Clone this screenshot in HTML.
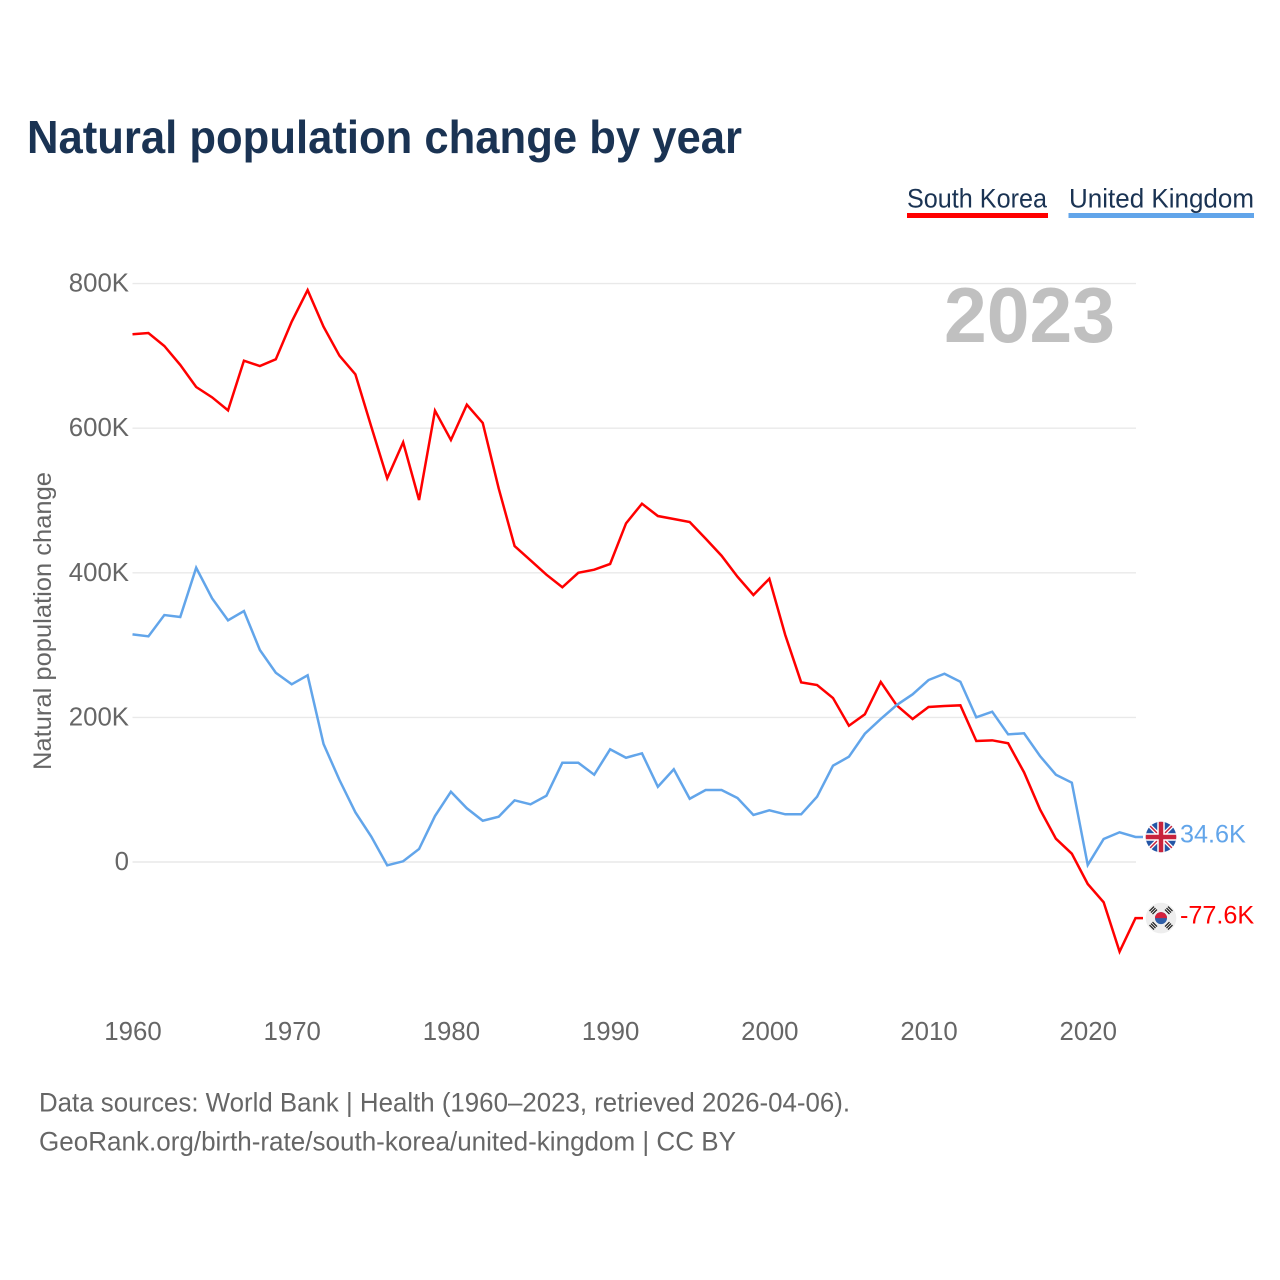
<!DOCTYPE html>
<html lang="en">
<head>
<meta charset="utf-8">
<title>Natural population change by year</title>
<style>
  html, body { margin: 0; padding: 0; background: #fff; }
  svg { display: block; font-family: "Liberation Sans", sans-serif; }
</style>
</head>
<body>
<svg id="chart" xmlns="http://www.w3.org/2000/svg" width="1280" height="1280" viewBox="0 0 1280 1280">
  <defs>
    <clipPath id="flag-clip-uk"><circle cx="0" cy="0" r="15.3"/></clipPath>
    <clipPath id="flag-clip-kr"><circle cx="0" cy="0" r="15.3"/></clipPath>
  </defs>
  <rect width="1280" height="1280" fill="#fff"/>
  <text x="27" y="153" font-size="46" font-weight="700" fill="#1a3353" textLength="715" lengthAdjust="spacingAndGlyphs">Natural population change by year</text>

  <g>
    <g>
      <text x="907" y="207.500" font-size="26.5" fill="#1a3353" textLength="140" lengthAdjust="spacingAndGlyphs">South Korea</text>
      <rect x="907" y="213" width="141" height="5" fill="#ff0000"/>
    </g>
    <g>
      <text x="1069" y="207.500" font-size="26.5" fill="#1a3353" textLength="185" lengthAdjust="spacingAndGlyphs">United Kingdom</text>
      <rect x="1068.500" y="213" width="185.500" height="5" fill="#62a5ea"/>
    </g>
  </g>

  <g id="grid"></g>
  <g id="y-ticks"></g>
  <g id="x-ticks"></g>

  <text x="944" y="342" font-size="78" font-weight="700" fill="#c0c0c0" textLength="171" lengthAdjust="spacingAndGlyphs">2023</text>

  <text transform="translate(51 770) rotate(-90)" x="0" y="0" font-size="25" fill="#666" textLength="298" lengthAdjust="spacingAndGlyphs">Natural population change</text>

  <g id="series"></g>

  <g id="flag-uk">
    <g clip-path="url(#flag-clip-uk)">
      <rect x="-16" y="-16" width="32" height="32" fill="#2456a6"/>
      <path d="M-16-16 16 16M16-16-16 16" stroke="#fff" stroke-width="4"/>
      <path d="M-16-16 16 16M16-16-16 16" stroke="#c8233c" stroke-width="1.500"/>
      <path d="M0-16V16M-16 0H16" stroke="#fff" stroke-width="7.500"/>
      <path d="M0-16V16M-16 0H16" stroke="#c8233c" stroke-width="4.500"/>
    </g>
  </g>
  <g id="flag-kr">
    <g clip-path="url(#flag-clip-kr)">
      <rect x="-16" y="-16" width="32" height="32" fill="#eeeeee"/>
      <circle cx="0" cy="0" r="6" fill="#2f5fa8"/>
      <path d="M-6 0A6 6 0 0 1 6 0Z" fill="#d4213d"/>
      <g stroke="#222" stroke-width="1.300">
        <path d="M-11.500-7-7-11.500M-10-5.500-5.500-10M-8.500-4-4-8.500"/>
        <path d="M11.500-7 7-11.500M10-5.500 5.500-10M8.500-4 4-8.500"/>
        <path d="M-11.500 7-7 11.500M-10 5.500-5.500 10M-8.500 4-4 8.500"/>
        <path d="M11.500 7 7 11.500M10 5.500 5.500 10M8.500 4 4 8.500"/>
      </g>
    </g>
  </g>
  <g id="end-labels"></g>

  <g>
    <text x="39" y="1111.500" font-size="26.5" fill="#666" textLength="811" lengthAdjust="spacingAndGlyphs">Data sources: World Bank | Health (1960–2023, retrieved 2026-04-06).</text>
    <text x="39" y="1150.500" font-size="26.5" fill="#666" textLength="697" lengthAdjust="spacingAndGlyphs">GeoRank.org/birth-rate/south-korea/united-kingdom | CC BY</text>
  </g>
</svg>
<script>
const startYear = 1960;
const xTickYears = [1960, 1970, 1980, 1990, 2000, 2010, 2020];
const yTickValues = [0, 200, 400, 600, 800];
const yTickLabels = ["0", "200K", "400K", "600K", "800K"];
const southKoreaValues = [
  730, 731.7, 713.7, 687.5, 657, 642.7, 624.7, 693.4, 686, 695.3,
  747.3, 791, 740.4, 700.3, 674.5, 602, 530.7, 580.5, 500.7, 624.2,
  583.7, 632.5, 607.2, 516.8, 437, 417.3, 397.4, 380, 400, 404.3,
  412.2, 468.4, 495.6, 478.5, 474.4, 470.3, 447.2, 423.6, 394.6, 369.3,
  391.8, 314, 248.5, 244.8, 226.8, 188.5, 204.3, 249, 216.7, 197.8,
  214.4, 215.8, 216.7, 167.4, 168.3, 164.2, 124, 72.9, 32.2, 11.5,
  -30.4, -55.7, -124, -77.6
];
const unitedKingdomValues = [
  314.9, 312.1, 341.6, 338.8, 407, 364.7, 334.3, 347.1, 293.2, 261.8,
  245.8, 258.2, 163.2, 113.4, 68.7, 35, -4.6, 1, 18, 63.6,
  97.2, 74.3, 57.1, 62.6, 85.3, 79.8, 91.7, 137.3, 137.3, 120.7,
  155.9, 144.2, 150.3, 104.1, 128.2, 87.5, 99.6, 99.6, 88.5, 65,
  71.5, 66, 66, 90.3, 133.2, 145.6, 177.4, 197.8, 217.1, 231.9,
  251.7, 260.4, 249.3, 200.1, 207.9, 176.6, 178, 146.6, 120.7, 109.7,
  -4.1, 31.8, 41.1, 34.6
];

const SVG_NS = "http://www.w3.org/2000/svg";
const plotLeft = 132.5;
const plotRight = 1135.5;
const xScale = (plotRight - plotLeft) / 63;
const yZero = 862;
const yScale = 0.723;
const xAxis = (year) => plotLeft + (year - startYear) * xScale;
const yAxis = (value) => yZero - value * yScale;
const formatK = (value) => value.toFixed(1) + "K";

function svgEl(tag, attrs, parent) {
  const el = document.createElementNS(SVG_NS, tag);
  Object.keys(attrs).forEach((k) => el.setAttribute(k, attrs[k]));
  parent.appendChild(el);
  return el;
}

const gridGroup = document.getElementById("grid");
const yTickGroup = document.getElementById("y-ticks");
yTickValues.forEach((value, i) => {
  const line = svgEl("line", { x1: plotLeft, x2: plotRight + 0.5, y1: yAxis(value), y2: yAxis(value), stroke: "#e9e9e9", "stroke-width": 1.4 }, gridGroup);
  
  
  const label = svgEl("text", { x: 129, y: yAxis(value) + 8, "text-anchor": "end", "font-size": 25.8, fill: "#666" }, yTickGroup);
  label.textContent = yTickLabels[i];
  
  
});

const xTickGroup = document.getElementById("x-ticks");
xTickYears.forEach((year) => {
  const label = svgEl("text", { x: xAxis(year) + 0.5, y: 1040, "text-anchor": "middle", "font-size": 25.8, fill: "#666" }, xTickGroup);
  label.textContent = String(year);
  
  
});

const seriesGroup = document.getElementById("series");
function drawSeries(values, color) {
  const points = values.map((v, i) => xAxis(startYear + i).toFixed(2) + "," + yAxis(v).toFixed(2));
  const endY = yAxis(values[values.length - 1]).toFixed(2);
  points.push("1143," + endY);
  return svgEl("polyline", { points: points.join(" "), fill: "none", stroke: color, "stroke-width": 2.5, "stroke-linejoin": "miter" }, seriesGroup);
}
const koreaLine = drawSeries(southKoreaValues, "#ff0000");


const ukLine = drawSeries(unitedKingdomValues, "#62a5ea");



const lastKorea = southKoreaValues[southKoreaValues.length - 1];
const lastUk = unitedKingdomValues[unitedKingdomValues.length - 1];
document.getElementById("flag-uk").setAttribute("transform", "translate(1161 " + yAxis(lastUk).toFixed(1) + ")");
document.getElementById("flag-kr").setAttribute("transform", "translate(1161 " + yAxis(lastKorea).toFixed(1) + ")");

const endLabels = document.getElementById("end-labels");
const ukValueLabel = svgEl("text", { x: 1180, y: yAxis(lastUk) + 5.5, "font-size": 25.2, fill: "#62a5ea" }, endLabels);
ukValueLabel.textContent = formatK(lastUk);


const koreaValueLabel = svgEl("text", { x: 1180, y: yAxis(lastKorea) + 5.5, "font-size": 25.2, fill: "#ff0000" }, endLabels);
koreaValueLabel.textContent = formatK(lastKorea);


</script>
</body>
</html>
